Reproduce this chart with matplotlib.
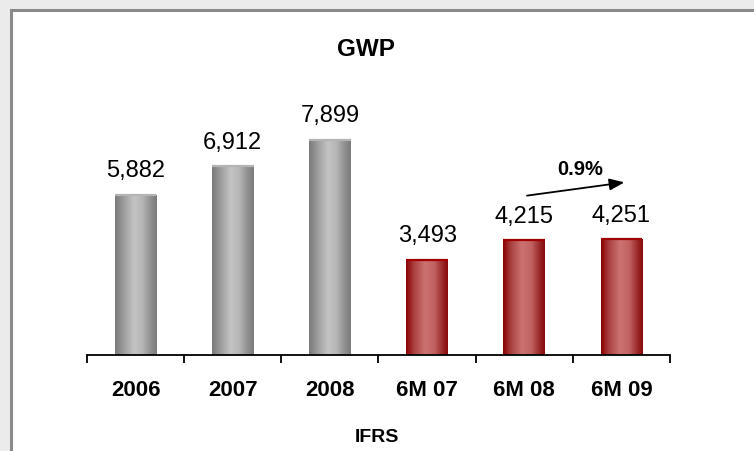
import numpy as np
import matplotlib
matplotlib.use("Agg")
import matplotlib.pyplot as plt
from matplotlib.patches import Rectangle
from matplotlib.colors import LinearSegmentedColormap

plt.rcParams['font.family'] = ['Liberation Sans', 'DejaVu Sans']

# data
categories = ["2006", "2007", "2008", "6M 07", "6M 08", "6M 09"]
gwp = [5882, 6912, 7899, 3493, 4215, 4251]
is_half_year = [False, False, False, True, True, True]

W, H = 754, 451
fig = plt.figure(figsize=(W / 100, H / 100), dpi=100, facecolor="#ebebeb")

# white panel with gray frame
panel = Rectangle((10.5 / W, -0.2), 1.2, 0.2 + (1 - 10 / H), transform=fig.transFigure,
                  facecolor="white", edgecolor="#8a8a8a", lw=2.2, zorder=-5)
fig.patches.append(panel)

ax = fig.add_axes([87 / W, 96 / H, (670 - 87) / W, (355 - 100) / H])
ax.set_facecolor("none")
ax.set_zorder(2)

x = np.arange(len(categories))
bw = 0.43
bars = ax.bar(x, gwp, width=bw, color="none", edgecolor="none", zorder=2)

gray_cmap = LinearSegmentedColormap.from_list(
    "g", [(0, "#7a7a7a"), (0.2, "#9c9c9c"), (0.45, "#c4c4c4"),
          (0.65, "#b6b6b6"), (0.88, "#8c8c8c"), (1, "#7c7c7c")])
red_cmap = LinearSegmentedColormap.from_list(
    "r", [(0, "#8a0000"), (0.18, "#aa4040"), (0.45, "#cc7272"),
          (0.68, "#c26262"), (0.9, "#962424"), (1, "#8a0a0a")])
grad = np.linspace(0, 1, 64)[np.newaxis, :]

for b, v, half in zip(bars, gwp, is_half_year):
    cmap = red_cmap if half else gray_cmap
    x0 = b.get_x()
    x1 = x0 + b.get_width()
    im = ax.imshow(grad, cmap=cmap, extent=[x0, x1, 0, v], aspect="auto",
                   zorder=2, interpolation="bicubic")
    im.set_clip_path(b)
    top_col = "#a00000" if half else "#b4b4b4"
    ax.plot([x0, x1], [v, v], color=top_col, lw=1.6, zorder=3, solid_capstyle="butt")
    ax.annotate(f"{v:,}", (b.get_x() + b.get_width() / 2, v), xytext=(0, 9),
                textcoords="offset points", ha="center", va="bottom", fontsize=17)

ax.set_xlim(-0.5, len(categories) - 0.5)
ax.set_ylim(0, 9350)

for s in ["top", "right", "left"]:
    ax.spines[s].set_visible(False)
ax.spines["bottom"].set_linewidth(1.3)
ax.set_yticks([])
ax.set_xticks(x)
ax.set_xticklabels(categories, fontsize=16, fontweight="bold")
ax.tick_params(axis="x", which="major", length=0, pad=18)
ax.set_xticks(np.arange(len(categories) + 1) - 0.5, minor=True)
ax.tick_params(axis="x", which="minor", direction="out", length=6, width=1.3)

# growth arrow between last two half-year figures
growth = (gwp[5] / gwp[4] - 1) * 100
ax.annotate("", xy=(5.06, 6344), xytext=(4.0, 5830),
            arrowprops=dict(arrowstyle="-|>,head_length=0.9,head_width=0.35",
                            color="black", lw=1.3), annotation_clip=False)
ax.text(4.58, 6784, f"{growth:.1f}%", ha="center", va="center",
        fontsize=14.5, fontweight="bold")

fig.text(366 / W, 1 - 50 / H, "GWP", ha="center", va="center",
         fontsize=17.5, fontweight="bold")
fig.text(377 / W, 1 - 437 / H, "IFRS", ha="center", va="center",
         fontsize=14, fontweight="bold")

fig.savefig("out.png", dpi=100, facecolor=fig.get_facecolor())
